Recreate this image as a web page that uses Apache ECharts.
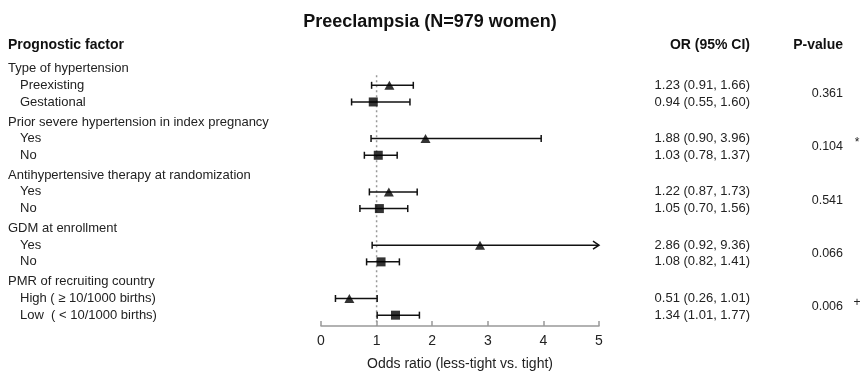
<!DOCTYPE html>
<html>
<head>
<meta charset="utf-8">
<script src="https://cdn.jsdelivr.net/npm/echarts@6/dist/echarts.min.js"></script>
<style>html,body{margin:0;padding:0;background:#fff}#c{width:860px;height:373px}</style>
</head>
<body>
<div id="c"></div>
<script>
const groups = ['Type of hypertension','Prior severe hypertension in index pregnancy','Antihypertensive therapy at randomization','GDM at enrollment','PMR of recruiting country'];
const subLabels = [['Preexisting','Gestational'],['Yes','No'],['Yes','No'],['Yes','No'],['High ( \u2265 10/1000 births)','Low  ( < 10/1000 births)']];
const orVals = [1.23,0.94,1.88,1.03,1.22,1.05,2.86,1.08,0.51,1.34];
const loVals = [0.91,0.55,0.90,0.78,0.87,0.70,0.92,0.82,0.26,1.01];
const hiVals = [1.66,1.60,3.96,1.37,1.73,1.56,9.36,1.41,1.01,1.77];
const pVals = ['0.361','0.104','0.541','0.066','0.006'];
const pMarks = ['','*','','','+'];
const xTicks = [0,1,2,3,4,5];

const FONT = 'Liberation Sans, Arial, sans-serif';
const XMAX = 5;
const GROUP_STEP = 3.2;

// row structure
const headerRows = [], subRows = [], orRows = [], pRows = [];
groups.forEach((g, gi) => {
  const base = gi * GROUP_STEP;
  headerRows.push([0, base, g]);
  subLabels[gi].forEach((s, si) => {
    const k = gi * 2 + si;
    subRows.push([0, base + 1 + si, s]);
    orRows.push([0, base + 1 + si, orVals[k].toFixed(2) + ' (' + loVals[k].toFixed(2) + ', ' + hiVals[k].toFixed(2) + ')']);
  });
  pRows.push([0, base + 1.5, pVals[gi], pMarks[gi]]);
});
const ciData = orVals.map((v, k) => {
  const gi = Math.floor(k / 2), si = k % 2;
  return [loVals[k], hiVals[k], gi * GROUP_STEP + 1 + si];
});
const triData = [], sqData = [];
orVals.forEach((v, k) => {
  const gi = Math.floor(k / 2), si = k % 2;
  (si === 0 ? triData : sqData).push([v, gi * GROUP_STEP + 1 + si]);
});

function textSeries(data, px, align, size, color, weight) {
  return {
    type: 'custom', data: data, clip: false, silent: true,
    renderItem: function (params, api) {
      const y = api.coord([0, api.value(1)])[1];
      const items = [{
        type: 'text', x: px, y: y,
        style: { text: data[params.dataIndex][2], fill: color, font: (weight || 'normal') + ' ' + size + 'px ' + FONT, textAlign: align, textVerticalAlign: 'middle' }
      }];
      const mark = data[params.dataIndex][3];
      if (mark) {
        items.push({ type: 'text', x: 857, y: y - 4, style: { text: mark, fill: color, font: 'normal 12px ' + FONT, textAlign: 'center', textVerticalAlign: 'middle' } });
      }
      return { type: 'group', children: items };
    }
  };
}

const chart = echarts.init(document.getElementById('c'), null, { renderer: 'canvas' });
chart.setOption({
  animation: false,
  backgroundColor: '#fff',
  title: {
    text: 'Preeclampsia (N=979 women)', left: 'center', top: 8,
    textStyle: { fontFamily: FONT, fontSize: 18, fontWeight: 'bold', color: '#111' }
  },
  graphic: [
    { type: 'text', left: 8, top: 38, style: { text: 'Prognostic factor', font: 'bold 14px ' + FONT, fill: '#111' } },
    { type: 'text', right: 860 - 750, top: 38, style: { text: 'OR (95% CI)', font: 'bold 14px ' + FONT, fill: '#111' } },
    { type: 'text', right: 860 - 843, top: 38, style: { text: 'P-value', font: 'bold 14px ' + FONT, fill: '#111' } }
  ],
  grid: { left: 321, right: 261, top: 52, bottom: 47, outerBoundsMode: 'none', containLabel: false },
  xAxis: {
    type: 'value', min: 0, max: XMAX, interval: 1, position: 'bottom',
    axisLine: { show: true, onZero: false, lineStyle: { color: '#999', width: 1.5 } },
    axisTick: { show: true, inside: true, length: 5, lineStyle: { color: '#999', width: 1.5 } },
    axisLabel: { fontFamily: FONT, fontSize: 14, color: '#222', margin: 8, formatter: v => xTicks.includes(v) ? String(v) : '' },
    splitLine: { show: false },
    name: 'Odds ratio (less-tight vs. tight)', nameLocation: 'middle', nameGap: 31,
    nameTextStyle: { fontFamily: FONT, fontSize: 14, color: '#222' }
  },
  yAxis: { type: 'value', inverse: true, min: -1, max: 15.45, show: false },
  series: [
    {
      type: 'line', data: [[1, 0.4], [1, 15.45]], symbol: 'none', silent: true,
      lineStyle: { color: '#999', width: 1.5, type: [2, 3] }, z: 1
    },
    {
      type: 'custom', data: ciData, clip: false, z: 3, silent: true,
      renderItem: function (params, api) {
        const lo = api.value(0), hi = api.value(1), y = api.value(2);
        const p0 = api.coord([lo, y]);
        const p1 = api.coord([Math.min(hi, XMAX), y]);
        const st = { stroke: '#111', lineWidth: 1.5, fill: null };
        const ch = [
          { type: 'line', shape: { x1: p0[0], y1: p0[1], x2: p1[0], y2: p1[1] }, style: st },
          { type: 'line', shape: { x1: p0[0], y1: p0[1] - 3.5, x2: p0[0], y2: p0[1] + 3.5 }, style: st }
        ];
        if (hi > XMAX) {
          ch.push({ type: 'polyline', shape: { points: [[p1[0] - 6, p1[1] - 4], [p1[0], p1[1]], [p1[0] - 6, p1[1] + 4]] }, style: st });
        } else {
          ch.push({ type: 'line', shape: { x1: p1[0], y1: p1[1] - 3.5, x2: p1[0], y2: p1[1] + 3.5 }, style: st });
        }
        return { type: 'group', children: ch };
      }
    },
    { type: 'scatter', data: triData, symbol: 'triangle', symbolSize: [10, 9], itemStyle: { color: '#000' }, z: 4, silent: true },
    { type: 'scatter', data: sqData, symbol: 'rect', symbolSize: 9, itemStyle: { color: '#000' }, z: 4, silent: true },
    textSeries(headerRows, 8, 'left', 13, '#222'),
    textSeries(subRows, 20, 'left', 13, '#222'),
    textSeries(orRows, 750, 'right', 13, '#222'),
    textSeries(pRows, 843, 'right', 12.5, '#222')
  ]
});
</script>
</body>
</html>
